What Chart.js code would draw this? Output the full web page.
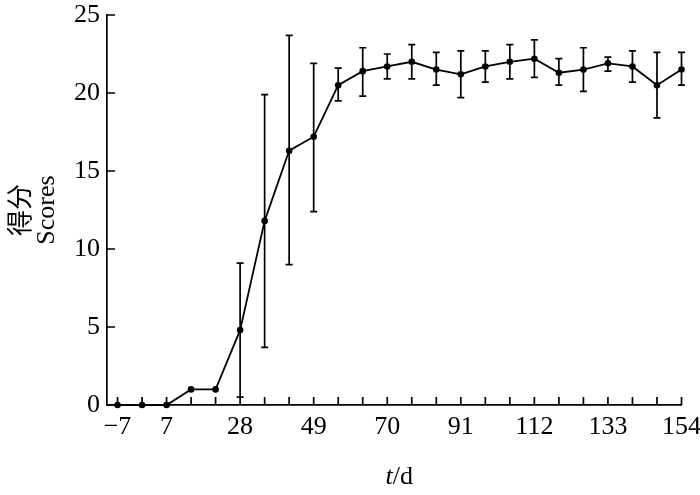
<!DOCTYPE html>
<html><head><meta charset="utf-8">
<script src="https://cdn.jsdelivr.net/npm/chart.js@4"></script>
<style>html,body{margin:0;padding:0;background:#fff}#wrap{width:700px;height:495px;position:relative}</style>
</head><body><div id="wrap"><canvas id="c"></canvas></div>
<script>
// Days (x) and mean scores (y)
const days   = [-7, 0, 7, 14, 21, 28, 35, 42, 49, 56, 63, 70, 77, 84, 91, 98, 105, 112, 119, 126, 133, 140, 147, 154];
const scores = [0, 0, 0, 1.0, 1.0, 4.8, 11.8, 16.3, 17.2, 20.5, 21.4, 21.7, 22.0, 21.5, 21.2, 21.7, 22.0, 22.2, 21.3, 21.5, 21.9, 21.7, 20.5, 21.5];
// Error bar lower / upper bounds (null = no bar)
const errLower = [null, null, null, null, null, 0.5, 3.7, 9.0, 12.4, 19.5, 19.8, 20.9, 20.9, 20.5, 19.7, 20.7, 20.9, 21.0, 20.5, 20.1, 21.4, 20.7, 18.4, 20.5];
const errUpper = [null, null, null, null, null, 9.1, 19.9, 23.7, 21.9, 21.6, 22.9, 22.5, 23.1, 22.6, 22.7, 22.7, 23.1, 23.4, 22.2, 22.9, 22.3, 22.7, 22.6, 22.6];
// Axis ticks
const xTickValues = [-7, 0, 7, 14, 21, 28, 35, 42, 49, 56, 63, 70, 77, 84, 91, 98, 105, 112, 119, 126, 133, 140, 147, 154];
const xTickLabels = [-7, 7, 28, 49, 70, 91, 112, 133, 154];
const yTickValues = [0, 5, 10, 15, 20, 25];
const yTitle = ['得分', 'Scores'];

const FONT = "'Liberation Serif', 'Times New Roman', 'Noto Sans CJK SC', serif";

const custom = {
  id: 'custom',
  beforeDatasetsDraw(chart) {
    const ctx = chart.ctx, x = chart.scales.x, y = chart.scales.y;
    ctx.save();
    ctx.strokeStyle = '#000';
    ctx.lineWidth = 1.7;
    for (let i = 0; i < days.length; i++) {
      if (errLower[i] == null) continue;
      const px = x.getPixelForValue(days[i]);
      const lo = y.getPixelForValue(errLower[i]);
      const hi = y.getPixelForValue(errUpper[i]);
      ctx.beginPath();
      ctx.moveTo(px, lo); ctx.lineTo(px, hi);
      ctx.moveTo(px - 3.5, lo); ctx.lineTo(px + 3.5, lo);
      ctx.moveTo(px - 3.5, hi); ctx.lineTo(px + 3.5, hi);
      ctx.stroke();
    }
    ctx.restore();
  },
  afterDraw(chart) {
    const ctx = chart.ctx, x = chart.scales.x, y = chart.scales.y;
    const a = chart.chartArea;
    ctx.save();
    ctx.strokeStyle = '#000';
    ctx.lineWidth = 1.7;
    ctx.beginPath();
    xTickValues.forEach(v => {
      const px = x.getPixelForValue(v);
      ctx.moveTo(px, a.bottom); ctx.lineTo(px, a.bottom - 8);
    });
    yTickValues.forEach(v => {
      const py = y.getPixelForValue(v);
      ctx.moveTo(a.left, py); ctx.lineTo(a.left + 8, py);
    });
    ctx.stroke();
    // x-axis title: italic t + /d
    ctx.fillStyle = '#000';
    ctx.textBaseline = 'middle';
    const f1 = "italic 26px " + FONT, f2 = "26px " + FONT;
    ctx.font = f1; const w1 = ctx.measureText('t').width;
    ctx.font = f2; const w2 = ctx.measureText('/d').width;
    const cx = (a.left + a.right) / 2 + 5;
    const sx = cx - (w1 + w2) / 2;
    ctx.font = f1; ctx.textAlign = 'left'; ctx.fillText('t', sx, 477);
    ctx.font = f2; ctx.fillText('/d', sx + w1, 477);
    ctx.restore();
  }
};

new Chart(document.getElementById('c'), {
  type: 'line',
  data: {
    datasets: [{
      data: days.map((d, i) => ({ x: d, y: scores[i] })),
      borderColor: '#000',
      backgroundColor: '#000',
      borderWidth: 1.8,
      pointRadius: 3.3,
      pointBackgroundColor: '#000',
      pointBorderWidth: 0,
      tension: 0,
      clip: false
    }]
  },
  options: {
    responsive: true,
    maintainAspectRatio: false,
    animation: false,
    layout: { padding: { top: 15, right: 18.5, left: 0, bottom: 0 } },
    plugins: { legend: { display: false }, tooltip: { enabled: false } },
    scales: {
      x: {
        type: 'linear',
        min: -10, max: 154,
        afterBuildTicks: s => { s.ticks = xTickValues.map(v => ({ value: v })); },
        afterFit: s => { s.height = 90; s.paddingLeft = 0; s.paddingRight = 0; },
        ticks: {
          autoSkip: false, maxRotation: 0, padding: 7, color: '#000',
          font: { family: FONT, size: 26 },
          callback: v => xTickLabels.includes(v) ? (v < 0 ? '\u2212' + (-v) : String(v)) : ''
        },
        grid: { display: true, drawOnChartArea: false, drawTicks: false },
        border: { display: true, color: '#000', width: 1.7 }
      },
      y: {
        min: 0, max: 25,
        afterBuildTicks: s => { s.ticks = yTickValues.map(v => ({ value: v })); },
        afterFit: s => { s.width = 107; s.paddingTop = 0; s.paddingBottom = 0; },
        ticks: { padding: 7, color: '#000', font: { family: FONT, size: 26 } },
        grid: { display: true, drawOnChartArea: false, drawTicks: false },
        border: { display: true, color: '#000', width: 1.7 },
        title: {
          display: true, text: yTitle, color: '#000',
          font: { family: FONT, size: 26, lineHeight: 0.96 },
          padding: { top: 9.5, bottom: 0 }
        }
      }
    }
  },
  plugins: [custom]
});
</script>
</body></html>
